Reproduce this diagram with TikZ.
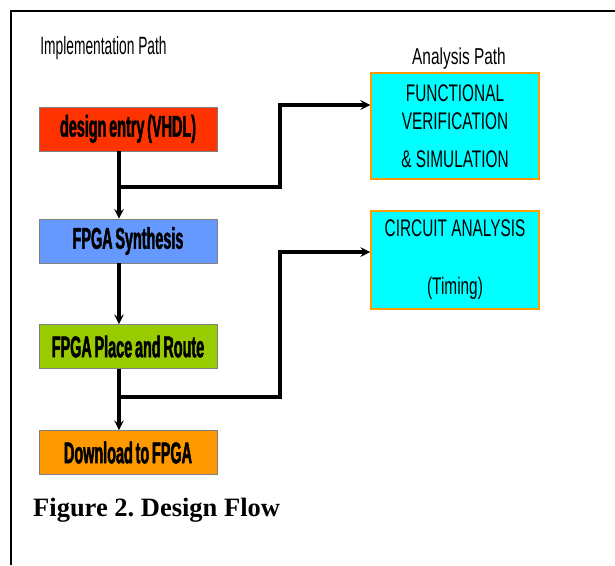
\documentclass[tikz,border=0pt]{standalone}
\usepackage{fontspec}
\setmainfont{Liberation Serif}
\newfontfamily\narrowsf[FakeStretch=0.64]{Liberation Sans}
\newfontfamily\heavysf[FakeStretch=0.48, BoldFeatures={FakeBold=1.5}, WordSpace=0.7]{Liberation Sans}

\definecolor{entryred}{HTML}{FF3300}
\definecolor{synthblue}{HTML}{6699FF}
\definecolor{routegreen}{HTML}{99CC00}
\definecolor{loadorange}{HTML}{FF9900}
\definecolor{checkcyan}{HTML}{00FFFF}

\begin{document}
\begin{tikzpicture}[>=stealth, x=1pt, y=-1pt,
  flowbox/.style={draw=gray, line width=0.6pt, minimum width=178pt, minimum height=44pt,
    inner sep=0pt, font=\heavysf\bfseries\fontsize{30}{32}\selectfont},
  checkbox/.style={draw=loadorange, line width=1.5pt, fill=checkcyan, minimum width=168pt,
    inner sep=0pt, align=center, font=\narrowsf\fontsize{24}{28}\selectfont},
  wire/.style={line width=3.2pt}]
\useasboundingbox (0,0) rectangle (615,565);

% frame
\draw [line width=2pt] (11,565)--(11,11)--(615,11);

\node [font=\narrowsf\fontsize{25}{26}\selectfont, xscale=0.86] (impl) at (103.5,48) {Implementation Path};
\node [font=\narrowsf\fontsize{23}{24}\selectfont, xscale=1.05] (anal) at (459,59) {Analysis Path};

% implementation path
\node [flowbox, fill=entryred]   (entry) at (128,129)   {design entry (VHDL)};
\node [flowbox, fill=synthblue]  (synth) at (128,241)   {FPGA Synthesis};
\node [flowbox, fill=routegreen] (route) at (128,346.5) {FPGA Place and Route};
\node [flowbox, fill=loadorange] (load)  at (128,452.5) {Download to FPGA};

% analysis path
\node [checkbox, minimum height=106pt] (func) at (455,126)
  {FUNCTIONAL\\VERIFICATION\\[10pt]\& SIMULATION};
\node [checkbox, minimum height=98pt] (circ) at (455,260)
  {CIRCUIT ANALYSIS\\[30pt](Timing)};

\coordinate (spine) at (119,0);
\coordinate (tap1) at (119,187);
\coordinate (tap2) at (119,397);
\coordinate (up1) at (280,105);
\coordinate (up2) at (280,252);

\draw [wire,->] (entry.south -| spine)--(synth.north -| spine);
\draw [wire,->] (synth.south -| spine)--(route.north -| spine);
\draw [wire,->] (route.south -| spine)--(load.north -| spine);

\draw [wire,->] (tap1) -| (up1) -- (up1 -| func.west);
\draw [wire,->] (tap2) -| (up2) -- (up2 -| circ.west);

\node [anchor=base west, inner sep=0pt, font=\bfseries\fontsize{26.5}{28}\selectfont] (cap) at (33,516)
  {Figure 2.\ Design Flow};

\end{tikzpicture}
\end{document}
